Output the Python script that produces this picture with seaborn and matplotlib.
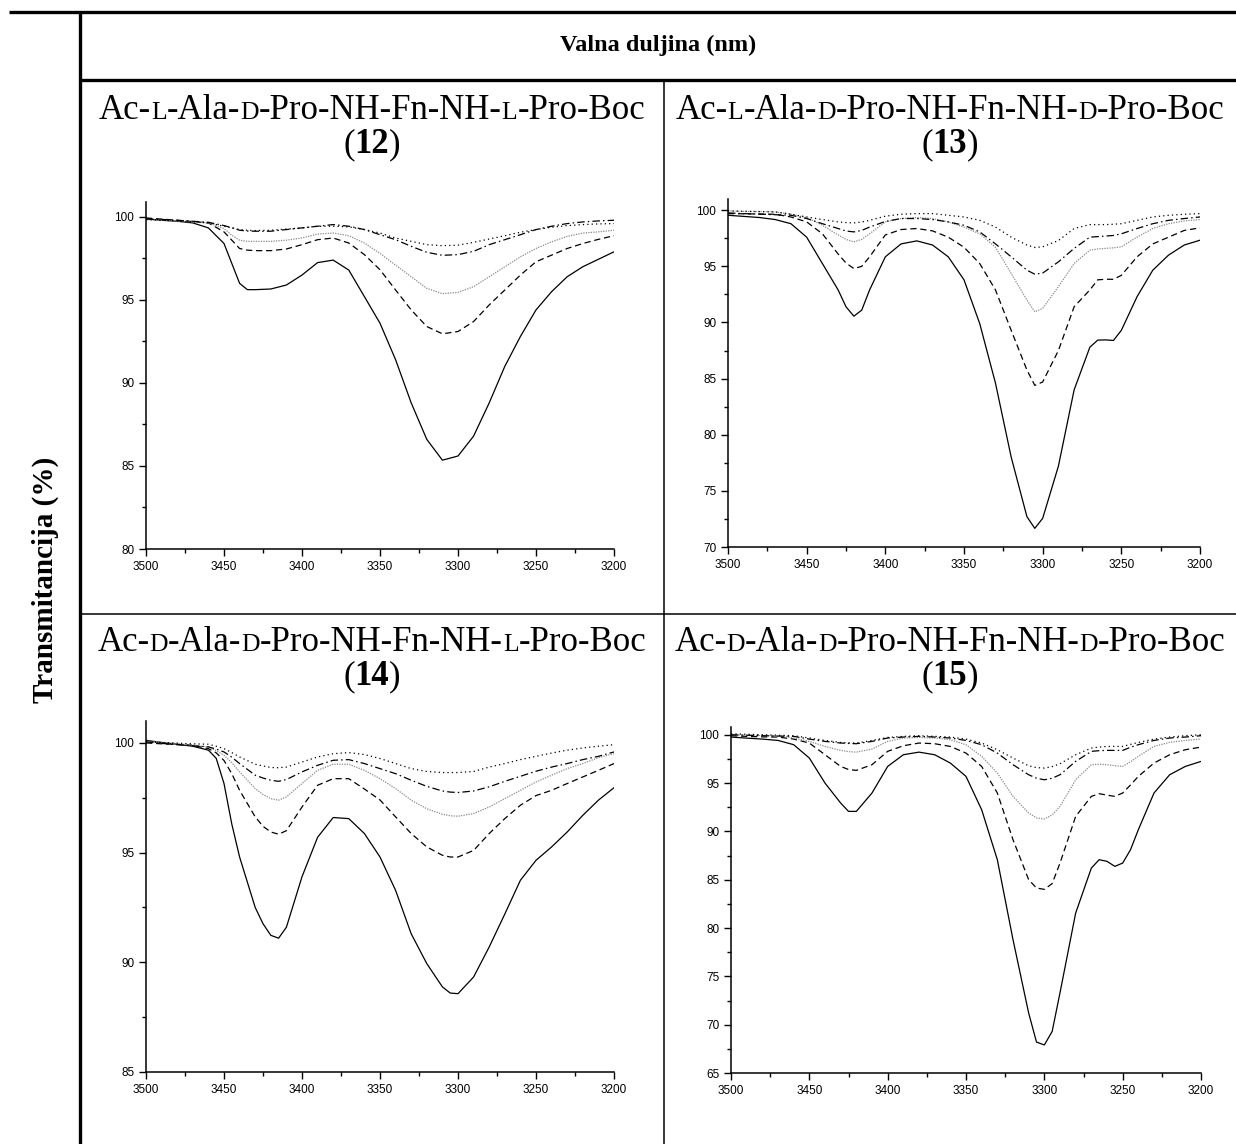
import re
import matplotlib
matplotlib.use('Agg')
import matplotlib.pyplot as plt
from matplotlib.ticker import MultipleLocator
import seaborn as sns

# IR spectra (N-H region), transmittance in %
# compound 12
wn_12 = [3500, 3490, 3480, 3470, 3460, 3450, 3445, 3440, 3435, 3430, 3420, 3410, 3400, 3390, 3380, 3370,
         3360, 3350, 3340, 3330, 3320, 3310, 3300, 3290, 3280, 3270, 3260, 3250, 3240, 3230, 3220, 3210, 3200]
solid_12 = [99.88, 99.8, 99.74, 99.64, 99.34, 98.4, 97.2, 96.0, 95.62, 95.62, 95.66, 95.9, 96.5, 97.25, 97.4, 96.8,
            95.2, 93.6, 91.4, 88.8, 86.6, 85.35, 85.6, 86.8, 88.8, 91.0, 92.8, 94.4, 95.5, 96.4, 97.0, 97.45, 97.9]
dashed_12 = [99.94, 99.87, 99.8, 99.72, 99.64, 99.1, 98.6, 98.1, 98.0, 97.97, 97.97, 98.07, 98.33, 98.63, 98.73, 98.43,
             97.73, 96.82, 95.6, 94.4, 93.4, 92.96, 93.1, 93.7, 94.7, 95.6, 96.5, 97.3, 97.7, 98.1, 98.4, 98.65, 98.87]
grey_12 = [99.84, 99.8, 99.75, 99.7, 99.64, 99.3, 98.9, 98.6, 98.53, 98.53, 98.53, 98.6, 98.73, 98.97, 99.03, 98.87,
           98.43, 97.8, 97.1, 96.4, 95.7, 95.38, 95.46, 95.8, 96.4, 97.0, 97.6, 98.1, 98.5, 98.83, 99.03, 99.1, 99.2]
dashdot_12 = [99.88, 99.85, 99.8, 99.74, 99.68, 99.48, 99.35, 99.2, 99.15, 99.14, 99.14, 99.24, 99.34, 99.44, 99.54, 99.44,
              99.24, 98.93, 98.63, 98.23, 97.87, 97.69, 97.73, 97.93, 98.33, 98.63, 98.93, 99.24, 99.44, 99.6, 99.7, 99.76, 99.8]
dotted_12 = [99.84, 99.8, 99.76, 99.7, 99.64, 99.44, 99.34, 99.24, 99.2, 99.18, 99.2, 99.27, 99.34, 99.44, 99.44, 99.4,
             99.24, 99.03, 98.73, 98.53, 98.33, 98.27, 98.3, 98.47, 98.67, 98.87, 99.08, 99.24, 99.38, 99.48, 99.54, 99.58, 99.6]

# compound 13
wn_13 = [3500, 3490, 3480, 3470, 3460, 3450, 3440, 3430, 3425, 3420, 3415, 3410, 3400, 3390, 3380, 3370, 3360, 3350,
         3340, 3330, 3320, 3310, 3305, 3300, 3290, 3280, 3270, 3265, 3260, 3255, 3250, 3240, 3230, 3220, 3210, 3200]
solid_13 = [99.55, 99.45, 99.35, 99.17, 98.8, 97.6, 95.25, 92.9, 91.4, 90.56, 91.1, 92.9, 95.85, 97.0, 97.27, 96.9, 95.85, 93.8,
            89.9, 84.6, 78.0, 72.7, 71.66, 72.55, 77.2, 84.0, 87.8, 88.43, 88.45, 88.4, 89.3, 92.3, 94.66, 96.0, 96.9, 97.33]
dashed_13 = [99.7, 99.68, 99.66, 99.64, 99.4, 98.96, 97.9, 96.1, 95.3, 94.8, 95.0, 95.85, 97.8, 98.28, 98.37, 98.16, 97.6, 96.7,
             95.25, 92.9, 89.3, 85.76, 84.4, 84.7, 87.5, 91.4, 92.9, 93.8, 93.85, 93.85, 94.2, 95.85, 97.0, 97.6, 98.2, 98.43]
grey_13 = [99.94, 99.9, 99.88, 99.85, 99.64, 99.35, 98.66, 97.8, 97.4, 97.18, 97.4, 97.9, 98.96, 99.26, 99.35, 99.26, 98.96, 98.5,
           97.9, 96.7, 94.36, 92.0, 90.95, 91.25, 93.2, 95.25, 96.44, 96.55, 96.6, 96.65, 96.74, 97.6, 98.37, 98.8, 99.05, 99.17]
dashdot_13 = [99.76, 99.7, 99.65, 99.6, 99.55, 99.26, 98.8, 98.37, 98.15, 98.07, 98.2, 98.5, 99.0, 99.26, 99.26, 99.17, 98.96, 98.66,
              98.07, 97.0, 95.85, 94.66, 94.3, 94.4, 95.4, 96.6, 97.6, 97.65, 97.7, 97.75, 97.9, 98.37, 98.8, 99.1, 99.26, 99.4]
dotted_13 = [99.94, 99.9, 99.88, 99.85, 99.65, 99.4, 99.17, 98.96, 98.9, 98.87, 98.95, 99.1, 99.47, 99.64, 99.7, 99.7, 99.55, 99.4,
             99.1, 98.5, 97.6, 96.9, 96.68, 96.74, 97.3, 98.37, 98.72, 98.72, 98.72, 98.75, 98.8, 99.1, 99.4, 99.55, 99.64, 99.7]

# compound 14
wn_14 = [3500, 3490, 3480, 3470, 3460, 3455, 3450, 3445, 3440, 3430, 3425, 3420, 3415, 3410, 3400, 3390, 3380, 3370,
         3360, 3350, 3340, 3330, 3320, 3310, 3305, 3300, 3290, 3280, 3270, 3260, 3250, 3240, 3230, 3220, 3210, 3200]
solid_14 = [100.12, 100.02, 99.94, 99.85, 99.67, 99.3, 98.15, 96.3, 94.8, 92.5, 91.76, 91.23, 91.1, 91.6, 93.9, 95.7, 96.6, 96.55,
            95.87, 94.8, 93.28, 91.3, 89.94, 88.88, 88.6, 88.57, 89.33, 90.7, 92.2, 93.74, 94.65, 95.26, 95.94, 96.7, 97.39, 97.96]
dashed_14 = [100.0, 99.96, 99.93, 99.9, 99.74, 99.55, 99.2, 98.6, 97.84, 96.63, 96.2, 95.94, 95.84, 96.0, 97.08, 98.07, 98.37, 98.37,
             97.9, 97.4, 96.63, 95.87, 95.26, 94.88, 94.8, 94.8, 95.1, 95.87, 96.55, 97.16, 97.6, 97.84, 98.15, 98.45, 98.75, 99.06]
grey_14 = [100.09, 100.03, 99.97, 99.9, 99.82, 99.65, 99.44, 99.1, 98.68, 97.92, 97.65, 97.46, 97.39, 97.54, 98.15, 98.75, 99.03, 99.03,
           98.75, 98.37, 97.92, 97.39, 97.0, 96.75, 96.68, 96.66, 96.78, 97.08, 97.46, 97.84, 98.22, 98.53, 98.83, 99.06, 99.33, 99.51]
dashdot_14 = [100.05, 99.98, 99.92, 99.87, 99.82, 99.72, 99.59, 99.35, 99.06, 98.53, 98.4, 98.3, 98.25, 98.33, 98.68, 98.98, 99.21, 99.24,
              99.06, 98.83, 98.6, 98.3, 98.02, 97.81, 97.76, 97.74, 97.81, 98.0, 98.25, 98.48, 98.71, 98.9, 99.06, 99.24, 99.39, 99.59]
dotted_14 = [100.05, 100.02, 99.99, 99.96, 99.94, 99.85, 99.74, 99.56, 99.36, 99.03, 98.95, 98.88, 98.87, 98.9, 99.13, 99.36, 99.51, 99.56,
             99.47, 99.29, 99.06, 98.83, 98.7, 98.65, 98.65, 98.65, 98.7, 98.9, 99.06, 99.24, 99.39, 99.54, 99.67, 99.77, 99.85, 99.92]

# compound 15
wn_15 = [3500, 3490, 3480, 3470, 3460, 3450, 3440, 3430, 3425, 3420, 3410, 3400, 3390, 3380, 3370, 3360, 3350, 3340, 3330,
         3320, 3310, 3305, 3300, 3295, 3290, 3280, 3270, 3265, 3260, 3255, 3250, 3245, 3240, 3230, 3220, 3210, 3200]
solid_15 = [99.76, 99.65, 99.55, 99.41, 98.97, 97.59, 95.0, 92.93, 92.07, 92.07, 93.97, 96.72, 97.93, 98.2, 97.93, 97.07, 95.69, 92.24, 87.07,
            78.8, 71.2, 68.2, 67.9, 69.3, 73.3, 81.55, 86.2, 87.07, 86.9, 86.38, 86.72, 88.1, 90.17, 93.97, 95.86, 96.72, 97.24]
dashed_15 = [99.9, 99.83, 99.78, 99.76, 99.55, 99.14, 97.93, 96.72, 96.4, 96.31, 96.9, 98.28, 98.86, 99.14, 99.07, 98.79, 98.1, 96.72, 93.97,
             89.14, 85.0, 84.14, 84.0, 84.6, 86.72, 91.55, 93.62, 93.9, 93.75, 93.62, 93.97, 94.8, 95.69, 97.07, 97.93, 98.45, 98.72]
grey_15 = [100.0, 99.95, 99.92, 99.9, 99.66, 99.31, 98.79, 98.38, 98.25, 98.2, 98.52, 99.31, 99.66, 99.72, 99.66, 99.48, 98.97, 97.76, 96.03,
           93.62, 91.9, 91.4, 91.28, 91.7, 92.59, 95.34, 96.9, 96.95, 96.9, 96.8, 96.72, 97.2, 97.76, 98.79, 99.21, 99.41, 99.55]
dashdot_15 = [100.0, 99.95, 99.9, 99.86, 99.83, 99.55, 99.31, 99.14, 99.1, 99.07, 99.31, 99.66, 99.76, 99.83, 99.76, 99.66, 99.41, 98.97, 98.1,
              96.9, 95.86, 95.5, 95.34, 95.5, 95.86, 97.24, 98.28, 98.35, 98.38, 98.38, 98.38, 98.7, 98.97, 99.41, 99.66, 99.76, 99.9]
dotted_15 = [100.1, 100.05, 100.0, 99.95, 99.9, 99.66, 99.41, 99.2, 99.16, 99.14, 99.41, 99.72, 99.83, 99.9, 99.83, 99.76, 99.55, 99.14, 98.45,
             97.59, 96.79, 96.6, 96.55, 96.7, 97.0, 97.93, 98.62, 98.72, 98.79, 98.79, 98.79, 99.0, 99.2, 99.55, 99.76, 99.9, 100.0]

names = ['Ac-L-Ala-D-Pro-NH-Fn-NH-L-Pro-Boc', 'Ac-L-Ala-D-Pro-NH-Fn-NH-D-Pro-Boc',
         'Ac-D-Ala-D-Pro-NH-Fn-NH-L-Pro-Boc', 'Ac-D-Ala-D-Pro-NH-Fn-NH-D-Pro-Boc']
numbers = ['12', '13', '14', '15']
y_limits = [(80, 100.9), (70, 101.0), (85, 101.0), (65, 100.8)]

W, H = 1236, 1144
SERIF = ['Liberation Serif', 'DejaVu Serif']

sns.set_style('ticks')
plt.rcParams['font.family'] = ['Liberation Sans', 'DejaVu Sans']
plt.rcParams['text.color'] = 'black'

fig = plt.figure(figsize=(W / 100, H / 100), dpi=100)

# overlay in pixel units for the table frame and the texts
ax0 = fig.add_axes([0, 0, 1, 1], zorder=-1)
ax0.set_xlim(0, W)
ax0.set_ylim(H, 0)
ax0.axis('off')

ax0.plot([9, W], [12, 12], color='black', lw=2.4, solid_capstyle='butt')
ax0.plot([80, 80], [11, H], color='black', lw=2.4, solid_capstyle='butt')
ax0.plot([80, W], [80, 80], color='black', lw=2.4, solid_capstyle='butt')
ax0.plot([664, 664], [80, H], color='black', lw=1.1, solid_capstyle='butt')
ax0.plot([80, W], [614, 614], color='black', lw=1.1, solid_capstyle='butt')

ax0.text(658, 45, 'Valna duljina (nm)', ha='center', va='center', fontsize=17.5,
         fontweight='bold', family=SERIF, color='black')
ax0.text(45, 580, 'Transmitancija (%)', ha='center', va='center', rotation=90,
         fontsize=21, fontweight='bold', family=SERIF, color='black')


def rich_line(cx, baseline, pieces, gap=0.0):
    # place text pieces of different size / weight side by side, centred on cx
    renderer = fig.canvas.get_renderer()
    texts, widths = [], []
    for s, size, weight in pieces:
        t = ax0.text(0, baseline, s, fontsize=size, fontweight=weight, family=SERIF,
                     ha='left', va='baseline', color='black')
        texts.append(t)
        widths.append(t.get_window_extent(renderer).width)
    x = cx - (sum(widths) + gap * (len(widths) - 1)) / 2
    for t, w in zip(texts, widths):
        t.set_x(x)
        x += w + gap


TS = 25
cells = [(372, 119), (950, 119), (372, 651), (950, 651)]
for name, num, (cx, base) in zip(names, numbers, cells):
    parts = re.split(r'(?<=-)([LD])(?=-)', name)
    pieces = [(p, TS * 0.74 if i % 2 else TS, 'normal') for i, p in enumerate(parts)]
    rich_line(cx, base, pieces)
    rich_line(cx, base + 34, [('(', TS, 'normal'), (num, TS, 'bold'), (')', TS, 'normal')])

styles = [
    dict(color='black', lw=0.9, linestyle='-'),
    dict(color='black', lw=0.9, linestyle=(0, (5, 3))),
    dict(color='#8a8a8a', lw=0.9, linestyle=(0, (1, 1))),
    dict(color='black', lw=0.9, linestyle=(0, (6, 2.5, 1.2, 2.5))),
    dict(color='black', lw=0.9, linestyle=(0, (1, 2.5))),
]

spectra = [
    (wn_12, [solid_12, dashed_12, grey_12, dashdot_12, dotted_12]),
    (wn_13, [solid_13, dashed_13, grey_13, dashdot_13, dotted_13]),
    (wn_14, [solid_14, dashed_14, grey_14, dashdot_14, dotted_14]),
    (wn_15, [solid_15, dashed_15, grey_15, dashdot_15, dotted_15]),
]

# axes boxes in pixels: left, top, right, bottom
boxes = [(146, 202, 614, 549), (728, 199, 1200, 547), (146, 721, 614, 1072), (731, 727, 1201, 1073)]

for (wn, series), (l, t, r, b), ylim in zip(spectra, boxes, y_limits):
    ax = fig.add_axes([l / W, 1 - b / H, (r - l) / W, (b - t) / H])
    ax.set_facecolor('none')
    for vals, st in zip(series, styles):
        sns.lineplot(x=wn, y=vals, ax=ax, estimator=None, sort=False,
                     solid_joinstyle='round', **st)
    ax.set_xlim(3500, 3200)
    ax.set_ylim(*ylim)
    ax.xaxis.set_major_locator(MultipleLocator(50))
    ax.xaxis.set_minor_locator(MultipleLocator(25))
    ax.yaxis.set_major_locator(MultipleLocator(5))
    ax.yaxis.set_minor_locator(MultipleLocator(2.5))
    ax.tick_params(which='major', direction='out', length=5, width=1, labelsize=8.5, colors='black')
    ax.tick_params(which='minor', direction='out', length=3, width=1, colors='black')
    ax.set_xlabel('')
    ax.set_ylabel('')
    sns.despine(ax=ax)
    for sp in ('left', 'bottom'):
        ax.spines[sp].set_linewidth(1.1)
        ax.spines[sp].set_color('black')

fig.savefig('out.png', dpi=100)
